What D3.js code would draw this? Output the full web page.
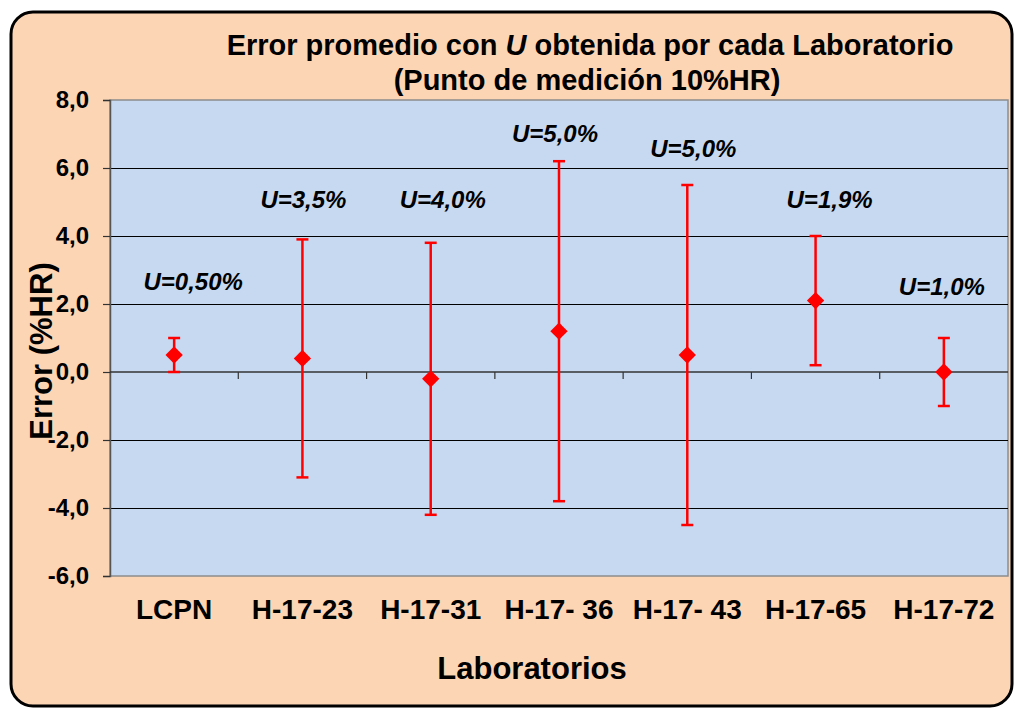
<!DOCTYPE html>
<html>
<head>
<meta charset="utf-8">
<script src="https://cdn.jsdelivr.net/npm/d3@7"></script>
<style>
  body { margin: 0; background: #ffffff; }
  text { font-family: "Liberation Sans", Arial, sans-serif; font-weight: bold; fill: #000; }
</style>
</head>
<body>
<svg id="chart"></svg>
<script>
// data
const labs = ["LCPN", "H-17-23", "H-17-31", "H-17- 36", "H-17- 43", "H-17-65", "H-17-72"];
const errorMean = [0.5, 0.4, -0.2, 1.2, 0.5, 2.1, 0.0];
const uncertainty = [0.5, 3.5, 4.0, 5.0, 5.0, 1.9, 1.0];
const uText = ["0,50%", "3,5%", "4,0%", "5,0%", "5,0%", "1,9%", "1,0%"];
const yTicks = [-6, -4, -2, 0, 2, 4, 6, 8];

let width = 1015;
let height = 710;
let plot = {"left": 110, "top": 100, "right": 1008, "bottom": 576};

let svg = d3.select("#chart")
    .attr("width", width)
    .attr("height", height);

// outer chart frame
svg.append("rect")
    .attr("x", 11).attr("y", 12)
    .attr("width", 1001).attr("height", 694)
    .attr("rx", 22).attr("ry", 22)
    .style("fill", "#FCD5B5")
    .style("stroke", "#000")
    .style("stroke-width", 3);

let x = d3.scaleBand()
    .domain(labs)
    .range([plot.left, plot.right]);
let y = d3.scaleLinear()
    .domain([-6, 8])
    .range([plot.bottom, plot.top]);

let fmt = (v) => v.toFixed(1).replace(".", ",");

svg.append("rect")
    .attr("x", plot.left).attr("y", plot.top)
    .attr("width", plot.right - plot.left)
    .attr("height", plot.bottom - plot.top)
    .style("fill", "#C6D9F1")
    .style("stroke", "#8c8c8c")
    .style("stroke-width", 1.5);

// gridlines
svg.selectAll("line.grid")
    .data(yTicks.filter((d) => d != 0 && d != -6 && d != 8))
    .enter().append("line")
    .attr("class", "grid")
    .attr("x1", plot.left).attr("x2", plot.right)
    .attr("y1", (d) => Math.round(y(d)) + 0.5).attr("y2", (d) => Math.round(y(d)) + 0.5)
    .style("stroke", "#000")
    .style("stroke-width", 1);

// y axis
let yAxis = svg.append("g")
    .attr("transform", `translate(${plot.left},0)`)
    .call(d3.axisLeft(y).tickValues(yTicks).tickSize(7).tickPadding(14).tickFormat(fmt));
yAxis.select(".domain").style("stroke", "#555").style("stroke-width", 1.5);
yAxis.selectAll(".tick line").style("stroke", "#333").style("stroke-width", 1.2);
yAxis.selectAll(".tick text")
    .style("font-size", "24px")
    .style("font-family", "'Liberation Sans', Arial, sans-serif")
    .style("font-weight", "bold")
    .style("fill", "#000");

// zero line with category ticks
let xAxis = svg.append("g")
    .attr("transform", `translate(0,${y(0)})`);
xAxis.append("line")
    .attr("x1", plot.left).attr("x2", plot.right)
    .attr("y1", 0).attr("y2", 0)
    .style("stroke", "#333").style("stroke-width", 1.5);
xAxis.selectAll("line.sep")
    .data(labs.slice(1))
    .enter().append("line")
    .attr("class", "sep")
    .attr("x1", (d) => x(d)).attr("x2", (d) => x(d))
    .attr("y1", 0).attr("y2", 7)
    .style("stroke", "#333").style("stroke-width", 1.2);

// category labels
svg.selectAll("text.cat")
    .data(labs)
    .enter().append("text")
    .attr("class", "cat")
    .attr("x", (d) => x(d) + x.bandwidth() / 2)
    .attr("y", 619)
    .style("text-anchor", "middle")
    .style("font-size", "28px")
    .text((d) => d);

// error bars
let bars = svg.selectAll("g.bar")
    .data(labs.map((d, i) => ({lab: d, v: errorMean[i], u: uncertainty[i]})))
    .enter().append("g")
    .attr("class", "bar")
    .attr("transform", (d) => `translate(${x(d.lab) + x.bandwidth() / 2},0)`);
bars.append("line")
    .attr("y1", (d) => y(d.v + d.u)).attr("y2", (d) => y(d.v - d.u))
    .style("stroke", "#FF0000").style("stroke-width", 2.5);
bars.selectAll("line.cap")
    .data((d) => [d.v + d.u, d.v - d.u])
    .enter().append("line")
    .attr("class", "cap")
    .attr("x1", -6).attr("x2", 6)
    .attr("y1", (d) => y(d)).attr("y2", (d) => y(d))
    .style("stroke", "#FF0000").style("stroke-width", 2.5);
bars.append("path")
    .attr("d", d3.symbol().type(d3.symbolSquare).size(150))
    .attr("transform", (d) => `translate(0,${y(d.v)}) rotate(45)`)
    .style("fill", "#FF0000");

// U labels (placed by hand as in the original)
let labelAt = [2.68, 5.09, 5.09, 7.03, 6.59, 5.09, 2.53];
let labelDx = [19, 1, 12, -4, 6, 14, -2];
let uLab = svg.selectAll("text.ulab")
    .data(uText)
    .enter().append("text")
    .attr("class", "ulab")
    .attr("x", (d, i) => x(labs[i]) + x.bandwidth() / 2 + labelDx[i])
    .attr("y", (d, i) => y(labelAt[i]))
    .attr("dy", "0.36em")
    .style("text-anchor", "middle")
    .style("font-size", "24px")
    .style("font-style", "italic");
uLab.append("tspan").text("U=");
uLab.append("tspan").text((d) => d);

// titles
let title = svg.append("text")
    .attr("x", 590).attr("y", 55)
    .style("text-anchor", "middle")
    .style("font-size", "29px");
title.append("tspan").text("Error promedio con ");
title.append("tspan").style("font-style", "italic").text("U");
title.append("tspan").text(" obtenida por cada Laboratorio");
svg.append("text")
    .attr("x", 587).attr("y", 90)
    .style("text-anchor", "middle")
    .style("font-size", "29px")
    .text("(Punto de medición 10%HR)");

svg.append("text")
    .attr("x", 532).attr("y", 679)
    .style("text-anchor", "middle")
    .style("font-size", "31px")
    .text("Laboratorios");

svg.append("text")
    .attr("transform", "translate(52,351) rotate(-90)")
    .style("text-anchor", "middle")
    .style("font-size", "31px")
    .text("Error (%HR)");
</script>
</body>
</html>
